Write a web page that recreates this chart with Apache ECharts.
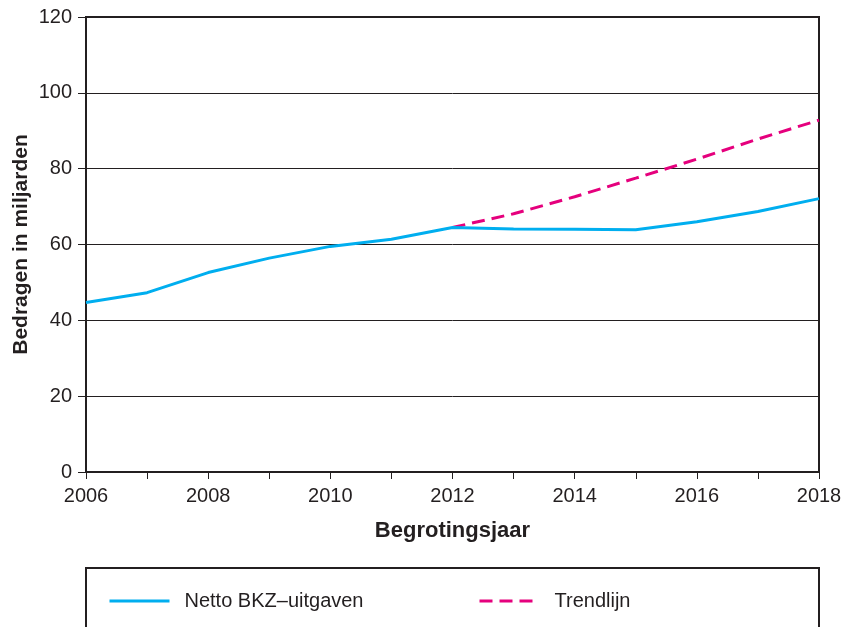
<!DOCTYPE html>
<html>
<head>
<meta charset="utf-8">
<script src="https://cdn.jsdelivr.net/npm/echarts@6/dist/echarts.min.js"></script>
<style>
  html, body { margin: 0; padding: 0; background: #fff; }
  #chart { width: 853px; height: 627px; }
</style>
</head>
<body>
<div id="chart"></div>
<script>
// jaren en bedragen (miljarden)
var jaren = ['2006', '2007', '2008', '2009', '2010', '2011', '2012',
             '2013', '2014', '2015', '2016', '2017', '2018'];
var nettoBKZ = [44.7, 47.3, 52.6, 56.4, 59.5, 61.4, 64.5, 64.1, 64.0, 63.9, 66.0, 68.7, 72.1];
var trendlijn = [null, null, null, null, null, null, 64.5, 68.1, 72.6, 77.5, 82.5, 87.8, 92.8];
var yTicks = [0, 20, 40, 60, 80, 100, 120];

var zwart = '#231f20';
var font = '"Liberation Sans", Arial, Helvetica, sans-serif';

var legendBase = {
    top: 586,
    itemWidth: 60, itemHeight: 14,
    itemStyle: { opacity: 0 },
    lineStyle: { width: 3 },
    textStyle: { fontSize: 20, color: zwart, padding: [0, 0, 0, 10] }
};

var chart = echarts.init(document.getElementById('chart'));
chart.setOption({
    animation: false,
    textStyle: { fontFamily: font },
    grid: {
        left: 86, right: 34, top: 17, bottom: 155,
        outerBoundsMode: 'none',
        containLabel: false,
        show: true,
        borderColor: zwart,
        borderWidth: 2
    },
    legend: [
        Object.assign({ data: ['Netto BKZ\u2013uitgaven'], left: 103 }, legendBase),
        Object.assign({ data: ['Trendlijn'], left: 473 }, legendBase)
    ],
    graphic: [{
        type: 'rect',
        shape: { x: 86, y: 568, width: 733, height: 80 },
        style: { fill: 'none', stroke: zwart, lineWidth: 2 }
    }],
    xAxis: {
        type: 'category',
        data: jaren,
        boundaryGap: false,
        name: 'Begrotingsjaar',
        nameLocation: 'middle',
        nameGap: 48,
        nameMoveOverlap: false,
        nameTextStyle: { fontSize: 22, fontWeight: 'bold', color: zwart },
        axisLine: { lineStyle: { color: zwart, width: 2 } },
        axisTick: { interval: 0, length: 7, lineStyle: { color: zwart, width: 1 } },
        axisLabel: { interval: 1, fontSize: 20, color: zwart, margin: 14 },
        splitLine: { show: false }
    },
    yAxis: {
        type: 'value',
        min: yTicks[0],
        max: yTicks[yTicks.length - 1],
        interval: 20,
        name: 'Bedragen in miljarden',
        nameLocation: 'middle',
        nameGap: 54,
        nameMoveOverlap: false,
        nameTextStyle: { fontSize: 21, fontWeight: 'bold', color: zwart },
        axisLine: { show: true, lineStyle: { color: zwart, width: 2 } },
        axisTick: { show: true, length: 8, lineStyle: { color: zwart, width: 1 } },
        axisLabel: { fontSize: 20, color: zwart, margin: 14 },
        splitLine: { lineStyle: { color: zwart, width: 1 } }
    },
    series: [{
        name: 'Netto BKZ\u2013uitgaven',
        type: 'line',
        data: nettoBKZ,
        symbol: 'none',
        z: 3,
        lineStyle: { color: '#00aeef', width: 3 },
        itemStyle: { color: '#00aeef' }
    }, {
        name: 'Trendlijn',
        type: 'line',
        data: trendlijn,
        symbol: 'none',
        z: 2,
        lineStyle: { color: '#e5007d', width: 3, type: [13, 7] },
        itemStyle: { color: '#e5007d' }
    }]
});
</script>
</body>
</html>
